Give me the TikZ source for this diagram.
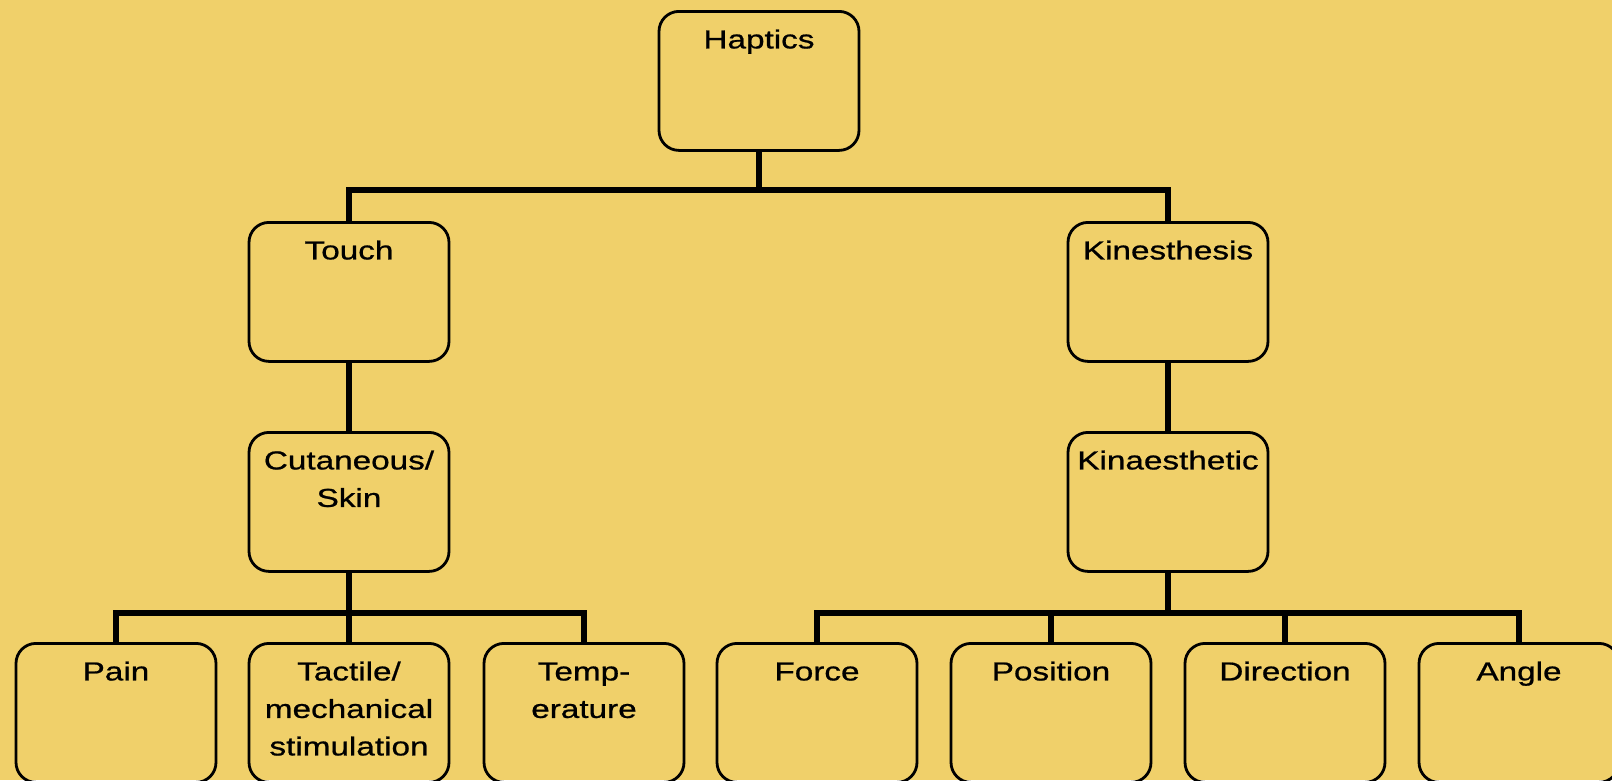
\documentclass[tikz,border=0pt]{standalone}
\usepackage{fontspec}
\setmainfont{Liberation Sans}[FakeStretch=1.28, FakeBold=0.8]
\usepackage{tikz}
\pgfdeclarelayer{bg}
\pgfsetlayers{bg,main}
\definecolor{paper}{RGB}{240,208,106}
\tikzset{
    every node/.style={draw, rounded corners=20pt, line width=2.8pt, inner sep=0pt,
        text width=200pt, align=center, text height=37pt, text depth=102pt,
        font=\fontsize{26}{37.5}\selectfont, anchor=north}
}
\tikzset{link/.style={line width=6.5pt}}

\begin{document}
\begin{tikzpicture}
    \useasboundingbox (0pt,0pt) rectangle (1612pt,-780pt);

    \node (hap) at (759pt, -10pt) {Haptics};

    \node (touch) at (349pt, -221pt) {Touch};
    \node (cut) at (349pt, -431pt) {Cutaneous/\\Skin};
    \node (kin) at (1168pt, -221pt) {Kinesthesis};
    \node (kina) at (1168pt, -431pt) {Kinaesthetic};

    \node (pain) at (116pt, -642pt) {Pain};
    \node (tact) at (349pt, -642pt) {Tactile/\\mechanical\\stimulation};
    \node (temp) at (584pt, -642pt) {Temp-\\erature};

    \node (force) at (817pt, -642pt) {Force};
    \node (pos) at (1051pt, -642pt) {Position};
    \node (dir) at (1285pt, -642pt) {Direction};
    \node (ang) at (1519pt, -642pt) {Angle};

    \begin{pgfonlayer}{bg}
        \fill[paper] (0pt,0pt) rectangle (1612pt,-780pt);

        \draw[link] (hap.south) -- ++(0pt,-38pt) -| (touch.north);
        \draw[link] (hap.south) -- ++(0pt,-38pt) -| (kin.north);

        \draw[link] (touch.south) -- (cut.north);
        \draw[link] (kin.south) -- (kina.north);

        \draw[link] (cut.south) -- ++(0pt,-40pt) -| (pain.north);
        \draw[link] (cut.south) -- (tact.north);
        \draw[link] (cut.south) -- ++(0pt,-40pt) -| (temp.north);

        \draw[link] (kina.south) -- ++(0pt,-40pt) -| (force.north);
        \draw[link] (kina.south) -- ++(0pt,-40pt) -| (pos.north);
        \draw[link] (kina.south) -- ++(0pt,-40pt) -| (dir.north);
        \draw[link] (kina.south) -- ++(0pt,-40pt) -| (ang.north);
    \end{pgfonlayer}
\end{tikzpicture}
\end{document}
